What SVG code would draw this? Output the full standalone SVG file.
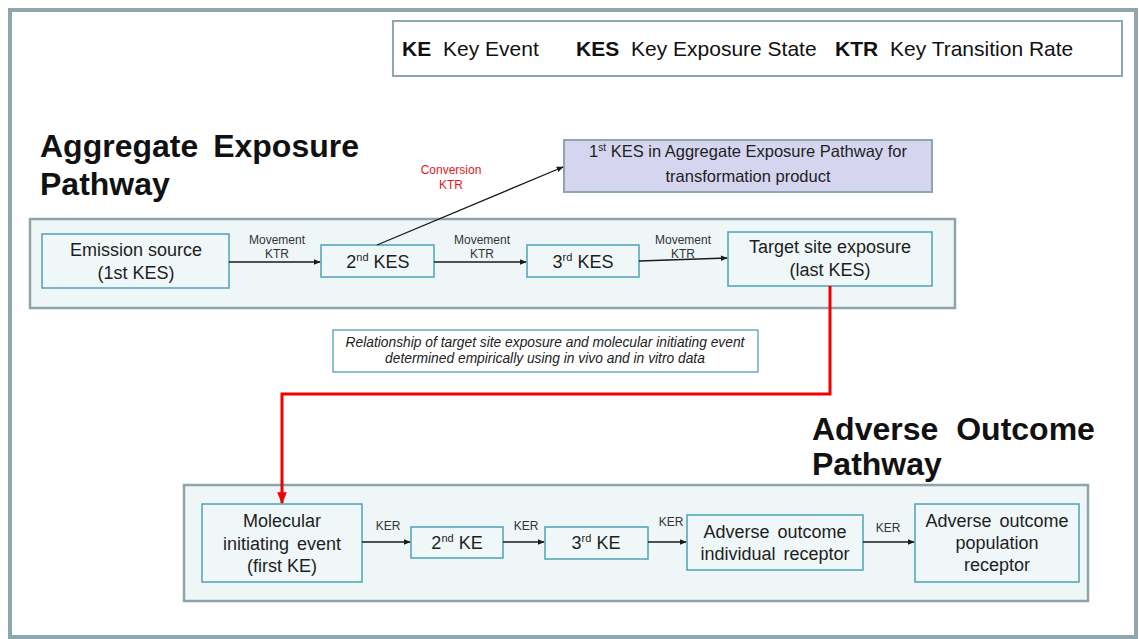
<svg xmlns="http://www.w3.org/2000/svg" width="1139" height="639" viewBox="0 0 1139 639">
<style>
  text { font-family: "Liberation Sans", Arial, sans-serif; fill: #1e1e1e; }
  .frame { fill: #ffffff; stroke: #8ea6ad; stroke-width: 4; }
  .legend { fill: #ffffff; stroke: #8ea6ad; stroke-width: 2; }
  .group { fill: #eef6f7; stroke: #8fa4aa; stroke-width: 2.5; }
  .node { fill: #eff7f8; stroke: #4fa2b6; stroke-width: 1.5; }
  .purple { fill: #d6d5f0; stroke: #8ea6ad; stroke-width: 2; }
  .rel { fill: #ffffff; stroke: #4fa2b6; stroke-width: 1.3; }
  .title { font-size: 32px; font-weight: bold; fill: #111; word-spacing: 6px; }
  .lgb { font-size: 21px; font-weight: bold; fill: #111; }
  .lg { font-size: 21px; fill: #111; }
  .nt { font-size: 18px; text-anchor: middle; }
  .ws { word-spacing: 3px; }
  .sup { font-size: 11px; }
  .lab { font-size: 12px; text-anchor: middle; fill: #333; }
  .red { fill: #e3161b; }
  .it { font-size: 13.8px; font-style: italic; text-anchor: middle; fill: #222; }
  .arr { fill: none; stroke: #1a1a1a; stroke-width: 1.3; marker-end: url(#ah); }
  .redline { fill: none; stroke: #f00000; stroke-width: 3; marker-end: url(#rah); }
</style>
<defs>
  <marker id="ah" viewBox="0 0 10 10" refX="9" refY="5" markerWidth="7" markerHeight="7" markerUnits="userSpaceOnUse" orient="auto">
    <path d="M0,1 L10,5 L0,9 Z" fill="#1a1a1a"/>
  </marker>
  <marker id="rah" viewBox="0 0 10 10" refX="9" refY="5" markerWidth="12" markerHeight="12" markerUnits="userSpaceOnUse" orient="auto">
    <path d="M0,1 L10,5 L0,9 Z" fill="#f00000"/>
  </marker>
</defs>

<rect class="frame" x="10" y="10" width="1126" height="627"/>

<g id="legend">
  <rect class="legend" x="393" y="21" width="729" height="55"/>
  <text y="56"><tspan class="lgb" x="402">KE</tspan><tspan class="lg" x="443">Key Event</tspan><tspan class="lgb" x="576">KES</tspan><tspan class="lg" x="631">Key Exposure State</tspan><tspan class="lgb" x="835">KTR</tspan><tspan class="lg" x="890">Key Transition Rate</tspan></text>
</g>

<g id="aep-title">
  <text class="title" x="40" y="157">Aggregate Exposure</text>
  <text class="title" x="40" y="195">Pathway</text>
</g>

<g id="aep-group">
  <rect class="group" x="30" y="219" width="925" height="89"/>
</g>

<g id="transformation-kes">
  <rect class="purple" x="564" y="140" width="368" height="52"/>
  <text class="nt" style="font-size:16.5px" x="748" y="157">1<tspan class="sup" style="font-size:10px" dy="-6">st</tspan><tspan dy="6"> KES in Aggregate Exposure Pathway for</tspan></text>
  <text class="nt" style="font-size:16.5px" x="748" y="182">transformation product</text>
</g>

<g id="emission-source">
  <rect class="node" x="42" y="234" width="187" height="54"/>
  <text class="nt" x="136" y="256">Emission source</text>
  <text class="nt" x="136" y="279">(1st KES)</text>
</g>

<g id="kes2">
  <rect class="node" x="321" y="245" width="113" height="32"/>
  <text class="nt" x="378" y="268">2<tspan class="sup" dy="-7">nd</tspan><tspan dy="7"> KES</tspan></text>
</g>

<g id="kes3">
  <rect class="node" x="527" y="245" width="112" height="32"/>
  <text class="nt" x="583" y="268">3<tspan class="sup" dy="-7">rd</tspan><tspan dy="7"> KES</tspan></text>
</g>

<g id="target-site">
  <rect class="node" x="728" y="232" width="204" height="54"/>
  <text class="nt" x="830" y="253">Target site exposure</text>
  <text class="nt" x="830" y="276">(last KES)</text>
</g>

<g id="relationship">
  <rect class="rel" x="333" y="330" width="425" height="42"/>
  <text class="it" x="545" y="347">Relationship of target site exposure and molecular initiating event</text>
  <text class="it" x="545" y="363">determined empirically using in vivo and in vitro data</text>
</g>

<g id="aop-title">
  <text class="title" x="812" y="440" style="word-spacing:9px">Adverse Outcome</text>
  <text class="title" x="812" y="475">Pathway</text>
</g>

<g id="aop-group">
  <rect class="group" x="184" y="485" width="904" height="116"/>
</g>

<g id="mie">
  <rect class="node" x="202" y="504" width="160" height="78"/>
  <text class="nt" x="282" y="527">Molecular</text>
  <text class="nt ws" x="282" y="550">initiating event</text>
  <text class="nt" x="282" y="572">(first KE)</text>
</g>

<g id="ke2">
  <rect class="node" x="411" y="527" width="92" height="31"/>
  <text class="nt" x="457" y="549">2<tspan class="sup" dy="-7">nd</tspan><tspan dy="7"> KE</tspan></text>
</g>

<g id="ke3">
  <rect class="node" x="545" y="527" width="103" height="32"/>
  <text class="nt" x="596" y="549">3<tspan class="sup" dy="-7">rd</tspan><tspan dy="7"> KE</tspan></text>
</g>

<g id="ao-individual">
  <rect class="node" x="687" y="515" width="176" height="55"/>
  <text class="nt ws" x="775" y="538">Adverse outcome</text>
  <text class="nt ws" x="775" y="560">individual receptor</text>
</g>

<g id="ao-population">
  <rect class="node" x="915" y="504" width="164" height="78"/>
  <text class="nt ws" x="997" y="527">Adverse outcome</text>
  <text class="nt" x="997" y="549">population</text>
  <text class="nt" x="997" y="571">receptor</text>
</g>

<g id="connectors">
  <path class="arr" d="M229,262 L320,262"/>
  <path class="arr" d="M434,262 L526,262"/>
  <path class="arr" d="M639,261 L727,258"/>
  <path class="arr" d="M377,245 L563,167"/>
  <path class="redline" d="M830,286 L830,394 L282,394 L282,503"/>
  <path class="arr" d="M362,542 L410,542"/>
  <path class="arr" d="M503,542 L544,542"/>
  <path class="arr" d="M648,542 L686,542"/>
  <path class="arr" d="M863,542 L914,542"/>
  <text class="lab" x="277" y="244">Movement</text>
  <text class="lab" x="277" y="258">KTR</text>
  <text class="lab" x="482" y="244">Movement</text>
  <text class="lab" x="482" y="258">KTR</text>
  <text class="lab" x="683" y="244">Movement</text>
  <text class="lab" x="683" y="258">KTR</text>
  <text class="lab red" x="451" y="174">Conversion</text>
  <text class="lab red" x="451" y="189">KTR</text>
  <text class="lab" x="388" y="530">KER</text>
  <text class="lab" x="526" y="530">KER</text>
  <text class="lab" x="671" y="526">KER</text>
  <text class="lab" x="888" y="532">KER</text>
</g>
</svg>
